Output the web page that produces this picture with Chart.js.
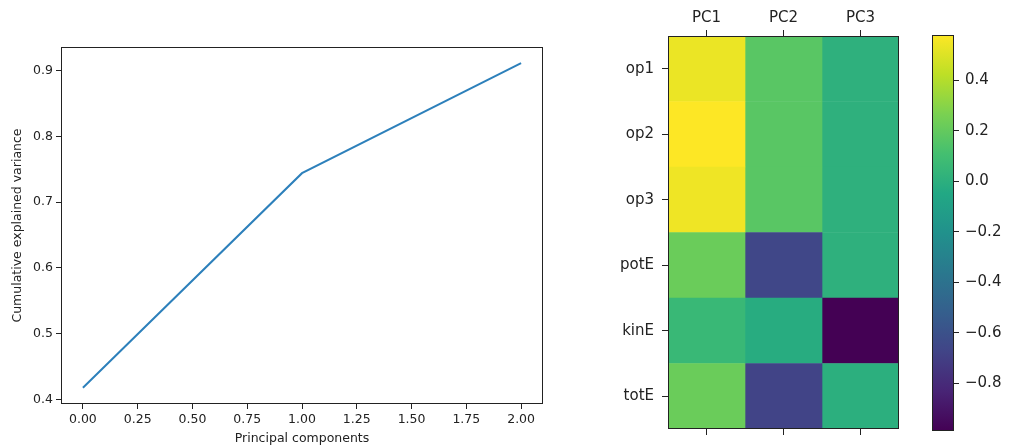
<!DOCTYPE html>
<html>
<head>
<meta charset="utf-8">
<script src="https://cdn.jsdelivr.net/npm/chart.js@4.4.0/dist/chart.umd.min.js"></script>
<style>
body{margin:0;background:#fff}
#wrap{position:relative;width:1010px;height:446px}
canvas{position:absolute;top:0}
</style>
</head>
<body>
<div id="wrap">
<canvas id="pca" width="560" height="446" style="left:0"></canvas>
<canvas id="heat" width="350" height="446" style="left:560px"></canvas>
<canvas id="cbar" width="100" height="446" style="left:910px"></canvas>
</div>
<script>
// left plot : cumulative explained variance
const components = [0, 1, 2];
const cumVariance = [0.418, 0.744, 0.911];
const xTicks = [0, 0.25, 0.5, 0.75, 1, 1.25, 1.5, 1.75, 2];
const yTicks = [0.4, 0.5, 0.6, 0.7, 0.8, 0.9];

// right plot : loadings
const features = ['op1', 'op2', 'op3', 'potE', 'kinE', 'totE'];
const pcNames = ['PC1', 'PC2', 'PC3'];
const pc1 = [0.535, 0.58, 0.545, 0.22, 0.06, 0.22];
const pc2 = [0.17, 0.17, 0.17, -0.66, -0.02, -0.675];
const pc3 = [0.01, 0.01, 0.01, 0.01, -0.99, 0.0];
const cbarTicks = [-0.8, -0.6, -0.4, -0.2, 0, 0.2, 0.4];

const viridis = ['#440154','#482475','#414487','#355f8d','#2a788e','#21918c','#22a884','#44bf70','#7ad151','#bddf26','#fde725'];

function hex2rgb(h){ return [1,3,5].map(i => parseInt(h.substr(i,2),16)); }
function cmap(t){
  t = Math.max(0, Math.min(1, t));
  let f = t * (viridis.length - 1);
  let i = Math.min(Math.floor(f), viridis.length - 2);
  let a = hex2rgb(viridis[i]), b = hex2rgb(viridis[i+1]);
  let k = f - i;
  let c = a.map((v, j) => Math.round(v + (b[j]-v)*k));
  return `rgb(${c[0]},${c[1]},${c[2]})`;
}

const font = 'DejaVu Sans';
const ink = '#222';

const frame = {
  id: 'frame',
  afterDraw(chart){
    const {ctx, chartArea: a} = chart;
    ctx.save();
    ctx.strokeStyle = ink;
    ctx.lineWidth = 1;
    ctx.strokeRect(Math.round(a.left)+0.5, Math.round(a.top)+0.5, Math.round(a.right-a.left)-1, Math.round(a.bottom-a.top)-1);
    ctx.restore();
  }
};

Chart.defaults.font.family = font;
Chart.defaults.color = ink;
Chart.defaults.animation = false;
Chart.defaults.plugins.legend.display = false;
Chart.defaults.plugins.tooltip.enabled = false;

// ---- cumulative variance ----
const span = cumVariance[cumVariance.length-1] - cumVariance[0];
new Chart(document.getElementById('pca'), {
  type: 'scatter',
  data: {
    datasets: [{
      data: components.map((c, i) => ({x: c, y: cumVariance[i]})),
      showLine: true,
      borderColor: '#2d80bb',
      borderWidth: 2,
      pointRadius: 0
    }]
  },
  options: {
    responsive: false,
    layout: {padding: {top: 47, right: 17, left: 0, bottom: 0}},
    scales: {
      x: {
        min: -0.1, max: 2.1,
        afterBuildTicks: s => { s.ticks = xTicks.map(v => ({value: v})); },
        afterFit: s => { s.height = 42; },
        ticks: {font: {size: 12.5}, padding: 3, maxRotation: 0, callback: v => v.toFixed(2)},
        grid: {drawOnChartArea: false, color: ink, tickLength: 5},
        border: {display: false},
        title: {display: true, text: 'Principal components', font: {size: 12.5}, padding: {top: 2, bottom: 0}}
      },
      y: {
        min: cumVariance[0] - 0.05*span, max: cumVariance[2] + 0.05*span,
        afterBuildTicks: s => { s.ticks = yTicks.map(v => ({value: v})); },
        afterFit: s => { s.width = 61; },
        ticks: {font: {size: 12.5}, padding: 3, callback: v => v.toFixed(1)},
        grid: {drawOnChartArea: false, color: ink, tickLength: 5},
        border: {display: false},
        title: {display: true, text: 'Cumulative explained variance', font: {size: 12.5}, padding: {top: 10, bottom: 0}}
      }
    }
  },
  plugins: [frame]
});

// ---- loadings heatmap ----
const cols = [pc1, pc2, pc3];
const all = cols.flat();
const vmin = Math.min(...all), vmax = Math.max(...all);
const norm = v => (v - vmin) / (vmax - vmin);

new Chart(document.getElementById('heat'), {
  type: 'bar',
  data: {
    labels: features,
    datasets: cols.map((col, c) => ({
      data: col.map(() => [c - 0.5, c + 0.5]),
      backgroundColor: col.map(v => cmap(norm(v))),
      borderWidth: 0,
      barPercentage: 1,
      categoryPercentage: 1
    }))
  },
  options: {
    responsive: false,
    indexAxis: 'y',
    layout: {padding: {top: 0, right: 11, left: 0, bottom: 0}},
    datasets: {bar: {grouped: false}},
    scales: {
      x: {
        type: 'linear', position: 'top',
        min: -0.5, max: 2.5,
        afterBuildTicks: s => { s.ticks = pcNames.map((n, i) => ({value: i})); },
        afterFit: s => { s.height = 36; },
        ticks: {font: {size: 15}, padding: 3, callback: v => pcNames[v]},
        grid: {drawOnChartArea: false, color: ink, tickLength: 6},
        border: {display: false}
      },
      x2: {
        type: 'linear', position: 'bottom',
        min: -0.5, max: 2.5,
        afterBuildTicks: s => { s.ticks = pcNames.map((n, i) => ({value: i})); },
        afterFit: s => { s.height = 11; },
        ticks: {display: false},
        grid: {drawOnChartArea: false, color: ink, tickLength: 6},
        border: {display: false}
      },
      y: {
        afterFit: s => { s.width = 108; },
        ticks: {font: {size: 15}, padding: 8},
        grid: {offset: false, drawOnChartArea: false, color: ink, tickLength: 6},
        border: {display: false}
      }
    }
  },
  plugins: [frame]
});

// ---- colorbar ----
new Chart(document.getElementById('cbar'), {
  type: 'bar',
  data: {
    labels: [''],
    datasets: [{
      data: [[vmin, vmax]],
      barPercentage: 1,
      categoryPercentage: 1,
      borderWidth: 0,
      backgroundColor: ctx => {
        const a = ctx.chart.chartArea;
        if (!a) return viridis[5];
        const g = ctx.chart.ctx.createLinearGradient(0, a.bottom, 0, a.top);
        viridis.forEach((c, i) => g.addColorStop(i / (viridis.length - 1), c));
        return g;
      }
    }]
  },
  options: {
    responsive: false,
    layout: {padding: {top: 35, right: 0, left: 22, bottom: 11}},
    scales: {
      x: {display: false},
      y: {
        position: 'right',
        min: vmin, max: vmax,
        afterBuildTicks: s => { s.ticks = cbarTicks.map(v => ({value: v})); },
        afterFit: s => { s.width = 56; },
        ticks: {font: {size: 15}, padding: 6, callback: v => v.toFixed(1).replace('-', '\u2212')},
        grid: {drawOnChartArea: false, color: ink, tickLength: 5},
        border: {display: false}
      }
    }
  },
  plugins: [frame]
});
</script>
</body>
</html>
